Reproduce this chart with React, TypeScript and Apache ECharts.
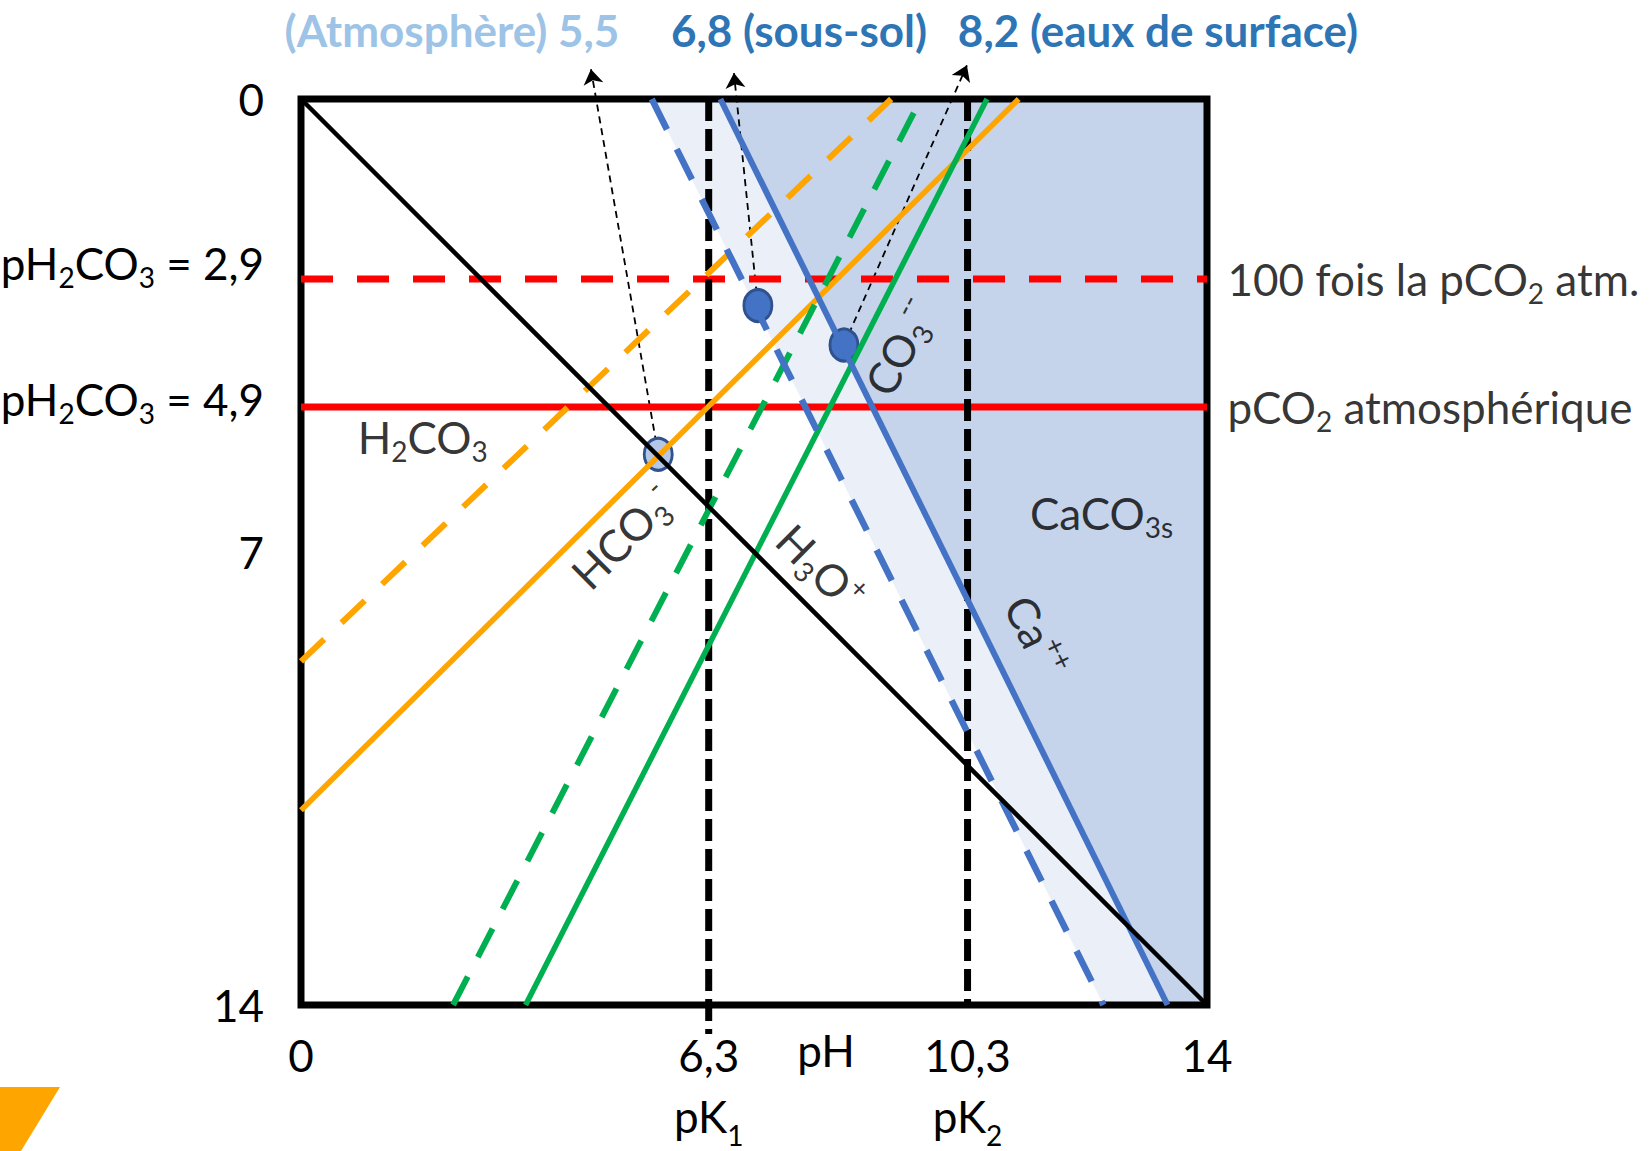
import React, { useEffect, useRef } from "react";
import * as echarts from "echarts";

const FONT = "Lato, 'Open Sans', sans-serif";

// ---- axes ----
const X_TICKS = [0, 6.3, 10.3, 14];
const X_TICK_LABELS = ["{m|0}", "{m|6,3}\n{k|pK}{ks|1}", "{m|10,3}\n{k|pK}{ks|2}", "{m|14}"];
const X_NAME = "pH";
const Y_TICKS = [0, 2.78, 4.76, 7, 14];
const Y_TICK_LABELS = [
  "{m|0}",
  "{m|pH}{s|2}{m|CO}{s|3}{m| = 2,9}\n{g16| }",
  "{m|pH}{s|2}{m|CO}{s|3}{m| = 4,9}\n{g8| }",
  "{m|7}",
  "{m|14}",
];

// ---- lines (pH, p-concentration) ----
const H3O_LINE = [[0, 0], [14, 14]];
const PK1_LINE = [[6.3, 0], [6.3, 14.45]];
const PK2_LINE = [[10.3, 0], [10.3, 14]];
const PCO2_100_LINE = [[0, 2.78], [14, 2.78]];
const PCO2_ATM_LINE = [[0, 4.76], [14, 4.76]];
const HCO3_ATM_LINE = [[0, 10.99], [11.09, 0]];
const HCO3_100_LINE = [[0, 8.69], [9.12, 0]];
const CO3_ATM_LINE = [[3.47, 14], [10.6, 0]];
const CO3_100_LINE = [[2.35, 14], [9.58, 0]];
const CA_ATM_LINE = [[6.48, 0], [13.39, 14]];
const CA_100_LINE = [[5.42, 0], [12.4, 14]];

// ---- zones ----
const ZONE_LIGHT = [[5.42, 0], [6.48, 0], [13.39, 14], [12.4, 14]];
const ZONE_DARK = [[6.48, 0], [14, 0], [14, 14], [13.39, 14]];

// ---- equilibrium points and arrows ----
const EQ_POINTS = [[5.52, 5.49], [7.06, 3.19], [8.39, 3.8]];
const EQ_COLORS = ["#B4C7E7", "#4472C4", "#4472C4"];
const ARROW_TIPS = [[4.48, -0.46], [6.69, -0.4], [10.29, -0.52]];

// ---- titles ----
const TITLES = ["(Atmosphère) 5,5", "6,8 (sous-sol)", "8,2 (eaux de surface)"];
const TITLE_COLORS = ["#9DC3E6", "#2E75B6", "#2E75B6"];

// ---- species labels ----
const SPECIES_LABELS = [
  "{m|H}{s|2}{m|CO}{s|3}",
  "{m|HCO}{s|3}{p|-}",
  "{m|H}{s|3}{m|O}{p|+}",
  "{m|CO}{s|3}{p|--}",
  "{m|Ca}{p|++}",
  "{m|CaCO}{s|3s}",
];
const SPECIES_POS = [[1.88, 5.23], [4.97, 6.76], [8.03, 7.24], [9.25, 3.83], [11.36, 8.3], [12.37, 6.39]];
const SPECIES_ROT = [0, 45, -45, 63, -64, 0];

// ---- right side labels ----
const SIDE_LABELS = ["{m|100 fois la pCO}{s|2}{m| atm.}", "{m|pCO}{s|2}{m| atmosphérique}"];
const SIDE_POS = [[14, 2.78], [14, 4.76]];

const base = { fontFamily: FONT, color: "#000" };
const RICH: any = {
  m: { ...base, fontSize: 44, lineHeight: 56 },
  s: { ...base, fontSize: 28, lineHeight: 26, verticalAlign: "bottom" },
  p: { ...base, fontSize: 28, lineHeight: 28, verticalAlign: "top" },
  k: { ...base, fontSize: 44, lineHeight: 66 },
  ks: { ...base, fontSize: 28, lineHeight: 40, verticalAlign: "bottom" },
  g16: { ...base, fontSize: 2, lineHeight: 32 },
  g8: { ...base, fontSize: 2, lineHeight: 16 },
};

const findIdx = (arr: number[], v: number) => arr.findIndex((t) => Math.abs(t - v) < 1e-6);

const seg = (name: string, data: number[][], color: string, width: number, type: any, extra: any = {}) => ({
  name,
  type: "line",
  data,
  showSymbol: false,
  symbol: "none",
  silent: true,
  lineStyle: { color, width, type, cap: "butt" },
  ...extra,
});

const zone = (name: string, pts: number[][], color: string) => ({
  name,
  type: "custom",
  z: -1,
  silent: true,
  data: [pts[0]],
  encode: { x: 0, y: 1 },
  renderItem: (_params: any, api: any) => ({
    type: "polygon",
    shape: { points: pts.map((p) => api.coord(p)) },
    style: { fill: color },
  }),
});

export default function App() {
  const ref = useRef<HTMLDivElement>(null);
  useEffect(() => {
    if (!ref.current) return;
    const chart = echarts.init(ref.current, undefined, { renderer: "svg" });
    const option: any = {
      animation: false,
      backgroundColor: "#fff",
      textStyle: { fontFamily: FONT },
      grid: {
        left: 301,
        top: 99,
        width: 906,
        height: 906,
        show: true,
        borderColor: "#000",
        borderWidth: 7,
        backgroundColor: "transparent",
        outerBoundsMode: "none",
      },
      xAxis: {
        type: "value",
        min: 0,
        max: 14,
        axisLine: { show: false },
        axisTick: { show: false },
        splitLine: { show: false },
        axisLabel: {
          customValues: X_TICKS,
          margin: 22,
          color: "#000",
          formatter: (v: number) => X_TICK_LABELS[findIdx(X_TICKS, v)] ?? "",
          rich: RICH,
        },
        name: X_NAME,
        nameLocation: "middle",
        nameGap: 17,
        nameMoveOverlap: false,
        nameTextStyle: { fontFamily: FONT, fontSize: 44, lineHeight: 56, color: "#000", padding: [0, 0, 0, 144] },
      },
      yAxis: {
        type: "value",
        min: 0,
        max: 14,
        inverse: true,
        axisLine: { show: false },
        axisTick: { show: false },
        splitLine: { show: false },
        axisLabel: {
          customValues: Y_TICKS,
          margin: 37,
          color: "#000",
          formatter: (v: number) => Y_TICK_LABELS[findIdx(Y_TICKS, v)] ?? "",
          rich: RICH,
        },
      },
      graphic: [
        ...TITLES.map((t, i) => ({
          type: "text",
          x: [452, 799, 1158][i],
          y: 30,
          style: {
            text: t,
            fontFamily: FONT,
            fontSize: 44,
            fontWeight: "bold",
            fill: TITLE_COLORS[i],
            align: "center",
            verticalAlign: "middle",
          },
        })),
        {
          type: "polygon",
          shape: { points: [[0, 1087], [60, 1087], [21, 1151], [0, 1151]] },
          style: { fill: "#FFA500" },
        },
      ],
      series: [
        zone("zone-light", ZONE_LIGHT, "#EAEFF8"),
        zone("zone-dark", ZONE_DARK, "#C5D3EB"),
        seg("pCO2x100", PCO2_100_LINE, "#FF0000", 7, [32, 24]),
        seg("pCO2atm", PCO2_ATM_LINE, "#FF0000", 7, "solid"),
        seg("pK1", PK1_LINE, "#000", 7, [22, 8], { clip: false }),
        seg("pK2", PK2_LINE, "#000", 7, [22, 8]),
        seg("HCO3-x100", HCO3_100_LINE, "#FFA500", 6, [32, 24]),
        seg("HCO3-", HCO3_ATM_LINE, "#FFA500", 5.5, "solid"),
        seg("CO3x100", CO3_100_LINE, "#00B050", 6, [32, 22]),
        seg("CO3", CO3_ATM_LINE, "#00B050", 5.5, "solid"),
        seg("Cax100", CA_100_LINE, "#4472C4", 6.5, [34, 22]),
        seg("Ca", CA_ATM_LINE, "#4472C4", 6, "solid"),
        seg("H3O+", H3O_LINE, "#000", 4.5, "solid"),
        {
          name: "arrows",
          type: "lines",
          coordinateSystem: "cartesian2d",
          clip: false,
          silent: true,
          symbol: ["none", "arrow"],
          symbolSize: [1, 15],
          lineStyle: { color: "#000", width: 1.8, type: [7, 5], opacity: 1, curveness: 0 },
          data: EQ_POINTS.map((p, i) => ({ coords: [p, ARROW_TIPS[i]] })),
        },
        {
          name: "equilibria",
          type: "scatter",
          silent: true,
          symbol: "circle",
          symbolSize: [28, 32],
          itemStyle: { borderColor: "#2F528F", borderWidth: 3, opacity: 1 },
          data: EQ_POINTS.map((p, i) => ({ value: p, itemStyle: { color: EQ_COLORS[i] } })),
        },
        {
          name: "species",
          type: "scatter",
          silent: true,
          symbolSize: 1,
          itemStyle: { color: "rgba(0,0,0,0)" },
          data: SPECIES_POS.map((p, i) => ({
            value: p,
            label: {
              show: true,
              position: "inside",
              color: "#000",
              rotate: SPECIES_ROT[i],
              formatter: () => SPECIES_LABELS[i],
              rich: RICH,
            },
          })),
        },
        {
          name: "side",
          type: "scatter",
          silent: true,
          symbolSize: 1,
          clip: false,
          itemStyle: { color: "rgba(0,0,0,0)" },
          data: SIDE_POS.map((p, i) => ({
            value: p,
            label: {
              show: true,
              position: "right",
              distance: 20,
              color: "#000",
              formatter: () => SIDE_LABELS[i],
              rich: RICH,
            },
          })),
        },
      ],
    };
    chart.setOption(option);
    return () => chart.dispose();
  }, []);
  return (
    <div
      ref={ref}
      style={{ position: "fixed", left: 0, top: 0, width: 1650, height: 1151, background: "#fff" }}
    />
  );
}
